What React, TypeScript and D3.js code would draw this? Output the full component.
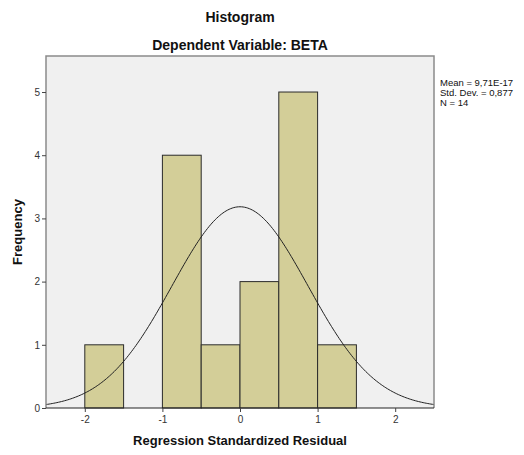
import { useEffect, useRef } from 'react'
import * as d3 from 'd3'

const binStarts = [-2, -1.5, -1, -0.5, 0, 0.5, 1, 1.5]
const binCounts = [1, 0, 4, 1, 2, 5, 1, 0]
const binWidth = 0.5
const xTicks = [-2, -1, 0, 1, 2]
const yTicks = [0, 1, 2, 3, 4, 5]
const statLines = ['Mean = 9,71E-17', 'Std. Dev. = 0,877', 'N = 14']
const mean = 9.71e-17
const sd = 0.877
const n = 14

const App = () => {
  const svgRef = useRef<SVGSVGElement>(null)
  const W = 524
  const H = 455
  const margin = { top: 56, right: 90, bottom: 47, left: 46 }
  const width = W - margin.left - margin.right
  const height = H - margin.top - margin.bottom

  useEffect(() => {
    const svg = d3.select(svgRef.current)
    svg.selectAll('*').remove()

    const font = 'Liberation Sans, Arial, sans-serif'

    const xScale = d3.scaleLinear().domain([-2.5, 2.5]).range([0, width])
    const yScale = d3.scaleLinear().domain([0, 5.57]).range([height, 0])

    const g = svg.append('g').attr('transform', `translate(${margin.left},${margin.top})`)

    // plot background
    g.append('rect')
      .attr('width', width)
      .attr('height', height)
      .attr('fill', '#f0f0f0')

    // bars
    const bins = binStarts.map((s, i) => ({ x0: s, count: binCounts[i] })).filter(d => d.count > 0)
    g.selectAll('rect.bar')
      .data(bins)
      .join('rect')
      .attr('class', 'bar')
      .attr('x', d => xScale(d.x0))
      .attr('y', d => yScale(d.count))
      .attr('width', d => xScale(d.x0 + binWidth) - xScale(d.x0))
      .attr('height', d => yScale(0) - yScale(d.count))
      .attr('fill', '#d3ce98')
      .attr('stroke', '#2b2b2b')
      .attr('stroke-width', 1)

    // normal curve scaled to counts
    const pdf = (x: number) => Math.exp(-0.5 * ((x - mean) / sd) ** 2) / (sd * Math.sqrt(2 * Math.PI))
    const pts = d3.range(-2.5, 2.5001, 0.02)
    const line = d3.line<number>()
      .x(x => xScale(x))
      .y(x => yScale(n * binWidth * pdf(x)))
    g.append('path')
      .datum(pts)
      .attr('fill', 'none')
      .attr('stroke', '#222')
      .attr('stroke-width', 1)
      .attr('d', line)

    // frame
    g.append('path')
      .attr('d', `M0,${height}V0H${width}V${height}`)
      .attr('fill', 'none')
      .attr('stroke', '#8a8a8a')
      .attr('stroke-width', 1.5)
    g.append('line')
      .attr('x1', 0).attr('x2', width)
      .attr('y1', height).attr('y2', height)
      .attr('stroke', '#222')

    // axes
    const yAxis = g.append('g')
      .call(d3.axisLeft(yScale).tickValues(yTicks).tickFormat(d => String(d)).tickSize(4).tickPadding(2))
    yAxis.select('.domain').remove()
    yAxis.selectAll('line').attr('stroke', '#444')
    yAxis.selectAll('text')
      .style('font-family', font)
      .style('font-size', '10px')
      .attr('fill', '#333')

    const xAxis = g.append('g')
      .attr('transform', `translate(0,${height})`)
      .call(d3.axisBottom(xScale).tickValues(xTicks).tickFormat(d => String(d)).tickSize(4).tickPadding(4))
    xAxis.select('.domain').remove()
    xAxis.selectAll('line').attr('stroke', '#444')
    xAxis.selectAll('text')
      .style('font-family', font)
      .style('font-size', '10px')
      .attr('fill', '#333')

    // titles
    svg.append('text')
      .attr('x', 240).attr('y', 22)
      .attr('text-anchor', 'middle')
      .style('font-family', font).style('font-size', '14px').style('font-weight', 'bold')
      .attr('fill', '#111')
      .text('Histogram')
    svg.append('text')
      .attr('x', 240).attr('y', 50)
      .attr('text-anchor', 'middle')
      .style('font-family', font).style('font-size', '14px').style('font-weight', 'bold')
      .attr('fill', '#111')
      .text('Dependent Variable: BETA')

    svg.append('text')
      .attr('x', margin.left + width / 2).attr('y', 445)
      .attr('text-anchor', 'middle')
      .style('font-family', font).style('font-size', '13px').style('font-weight', 'bold')
      .attr('fill', '#111')
      .text('Regression Standardized Residual')

    svg.append('text')
      .attr('transform', 'rotate(-90)')
      .attr('x', -(margin.top + height / 2)).attr('y', 22)
      .attr('text-anchor', 'middle')
      .style('font-family', font).style('font-size', '13px').style('font-weight', 'bold')
      .attr('fill', '#111')
      .text('Frequency')

    // stats box
    statLines.forEach((s, i) => {
      svg.append('text')
        .attr('x', 440).attr('y', 86 + i * 10)
        .style('font-family', font).style('font-size', '9.5px')
        .attr('fill', '#111')
        .text(s)
    })
  }, [])

  return (
    <svg ref={svgRef} width={W} height={H} style={{ position: 'absolute', left: 0, top: 0, background: '#fff' }}></svg>
  )
}

export default App
